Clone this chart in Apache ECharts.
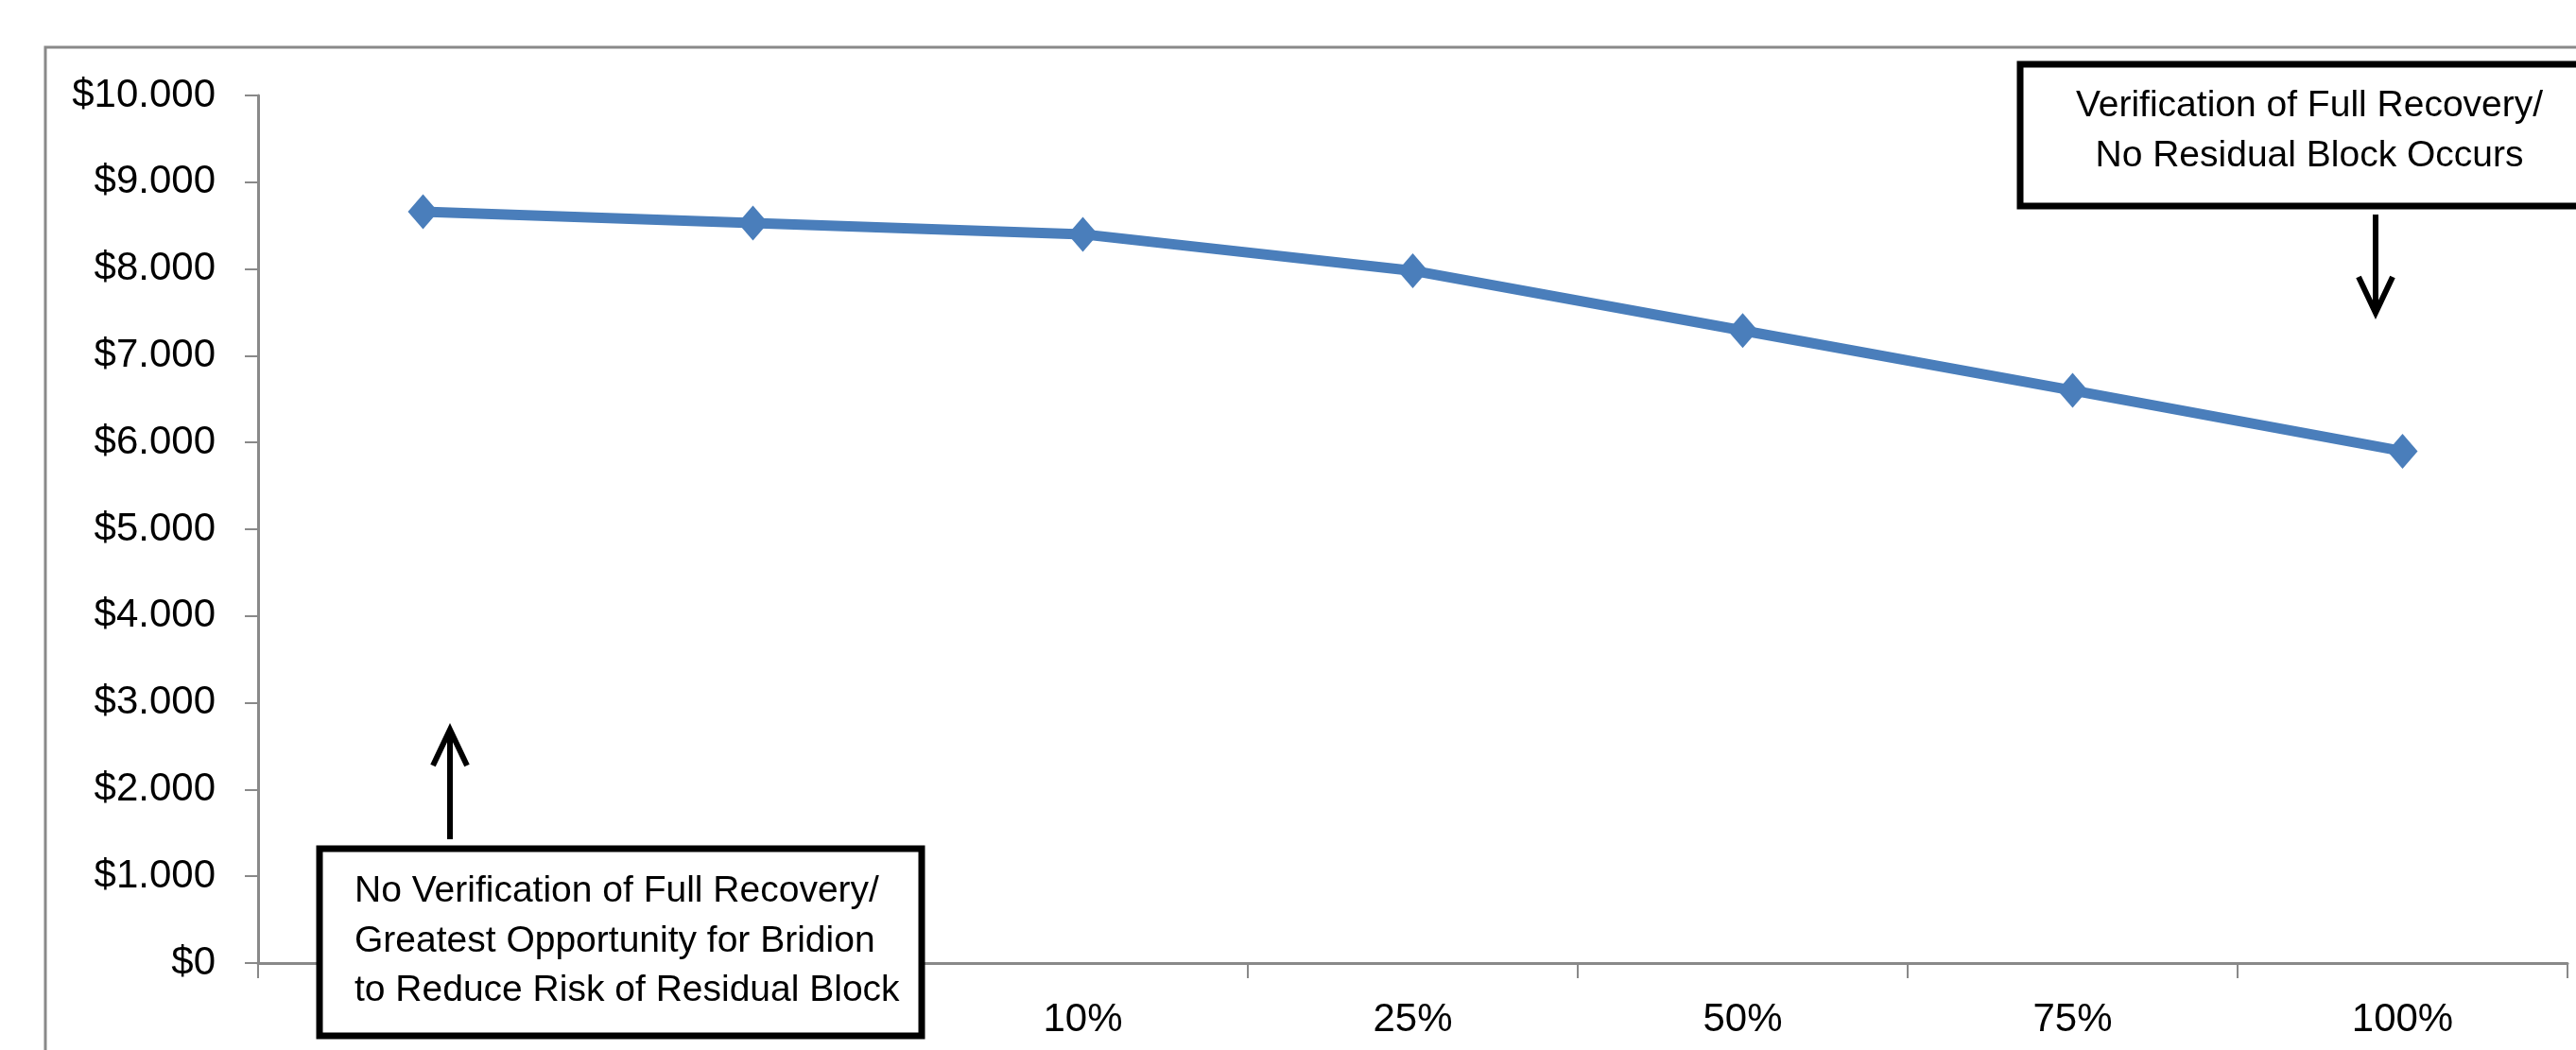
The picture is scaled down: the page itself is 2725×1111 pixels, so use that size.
<!DOCTYPE html>
<html>
<head>
<meta charset="utf-8">
<script src="https://cdn.jsdelivr.net/npm/echarts@6/dist/echarts.min.js"></script>
<style>
html,body{margin:0;padding:0;background:#fff;}
#chart{width:2725px;height:1111px;}
</style>
</head>
<body>
<div id="chart"></div>
<script>
// Categories (first two labels are hidden behind the annotation box)
var categories = ['', ' ', '10%', '25%', '50%', '75%', '100%'];
// Cost values in dollars
var costValues = [8660, 8530, 8400, 7980, 7290, 6600, 5900];
// Y-axis settings
var yMin = 0, yMax = 10000, yInterval = 1000;
// Annotation texts
var noteLeft = 'No Verification of Full Recovery/\nGreatest Opportunity for Bridion\nto Reduce Risk of Residual Block';
var noteRight = 'Verification of Full Recovery/\nNo Residual Block Occurs';

var FONT = "'Liberation Sans', Arial, sans-serif";
var AXIS_GRAY = '#898989';

function fmtDollar(v) {
  var s = String(Math.round(v));
  s = s.replace(/\B(?=(\d{3})+(?!\d))/g, '.');
  return '$' + s;
}

var chart = echarts.init(document.getElementById('chart'), null, {renderer: 'canvas'});
chart.setOption({
  animation: false,
  backgroundColor: '#ffffff',
  grid: {left: 273, right: 9, top: 101, bottom: 92, containLabel: false},
  xAxis: {
    type: 'category',
    data: categories,
    boundaryGap: true,
    axisLine: {show: true, lineStyle: {color: AXIS_GRAY, width: 3}},
    axisTick: {show: true, length: 16, lineStyle: {color: AXIS_GRAY, width: 2}},
    axisLabel: {color: '#000', fontFamily: FONT, fontSize: 42, margin: 39},
    splitLine: {show: false}
  },
  yAxis: {
    type: 'value',
    min: yMin, max: yMax, interval: yInterval,
    axisLine: {show: true, lineStyle: {color: AXIS_GRAY, width: 3}},
    axisTick: {show: true, length: 14, lineStyle: {color: AXIS_GRAY, width: 2}},
    axisLabel: {color: '#000', fontFamily: FONT, fontSize: 42, margin: 45, formatter: fmtDollar},
    splitLine: {show: false}
  },
  series: [{
    type: 'line',
    data: costValues,
    lineStyle: {color: '#4A7EBB', width: 11},
    itemStyle: {color: '#4A7EBB'},
    symbol: 'diamond',
    symbolSize: [32, 37],
    showSymbol: true,
    z: 3
  }],
  graphic: [
    // outer frame (right and bottom edges fall outside the picture)
    {type: 'rect', z: 0, silent: true,
     shape: {x: 48, y: 50, width: 2760, height: 1200},
     style: {fill: 'none', stroke: AXIS_GRAY, lineWidth: 3}},
    // left annotation box
    {type: 'rect', z: 100, silent: true,
     shape: {x: 338, y: 898, width: 637, height: 198},
     style: {fill: '#fff', stroke: '#000', lineWidth: 7}},
    {type: 'text', z: 101, silent: true,
     style: {text: noteLeft, x: 375, y: 996, fill: '#000', font: '39px ' + FONT,
             textAlign: 'left', textVerticalAlign: 'middle', lineHeight: 52.5}},
    // left arrow (pointing up)
    {type: 'line', z: 100, silent: true,
     shape: {x1: 476, y1: 888, x2: 476, y2: 774},
     style: {stroke: '#000', lineWidth: 6}},
    {type: 'polyline', z: 100, silent: true,
     shape: {points: [[458, 810], [476, 772], [494, 810]]},
     style: {stroke: '#000', lineWidth: 6, fill: 'none'}},
    // right annotation box
    {type: 'rect', z: 100, silent: true,
     shape: {x: 2137, y: 68, width: 612, height: 150},
     style: {fill: '#fff', stroke: '#000', lineWidth: 7}},
    {type: 'text', z: 101, silent: true,
     style: {text: noteRight, x: 2443, y: 139, fill: '#000', font: '39px ' + FONT,
             textAlign: 'center', textVerticalAlign: 'middle', lineHeight: 53}},
    // right arrow (pointing down)
    {type: 'line', z: 100, silent: true,
     shape: {x1: 2513, y1: 227, x2: 2513, y2: 329},
     style: {stroke: '#000', lineWidth: 6}},
    {type: 'polyline', z: 100, silent: true,
     shape: {points: [[2495, 293], [2513, 331], [2531, 293]]},
     style: {stroke: '#000', lineWidth: 6, fill: 'none'}}
  ]
});
</script>
</body>
</html>
